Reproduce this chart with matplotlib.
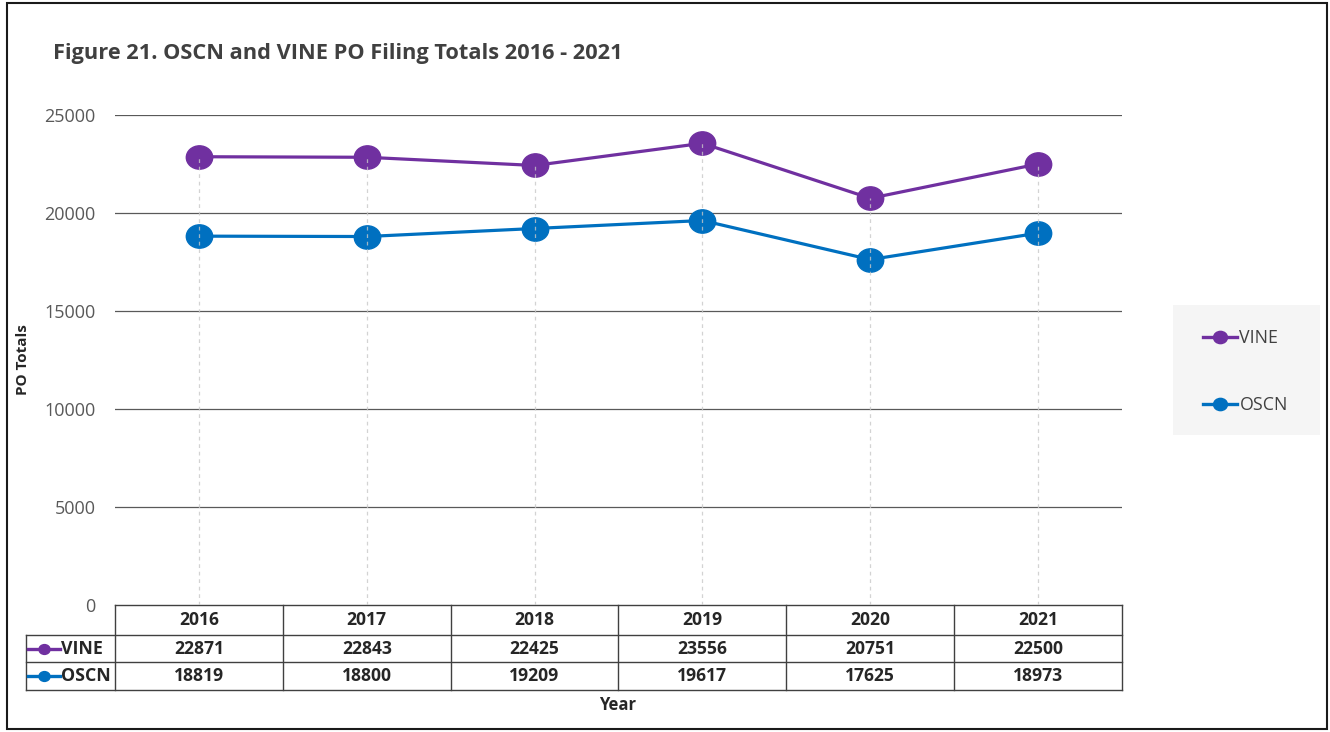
import matplotlib.pyplot as plt
from matplotlib.transforms import blended_transform_factory, Affine2D
from matplotlib.patches import Rectangle
from matplotlib.lines import Line2D
from matplotlib.path import Path

plt.rcParams['font.family'] = ['Open Sans', 'DejaVu Sans']

# datos
years = ["2016", "2017", "2018", "2019", "2020", "2021"]
vine = [22871, 22843, 22425, 23556, 20751, 22500]
oscn = [18819, 18800, 19209, 19617, 17625, 18973]
series_names = ["VINE", "OSCN"]
colors = ["#7030A0", "#0070C0"]

W, H = 1330, 732
fig = plt.figure(figsize=(W / 100, H / 100), dpi=100)
ax = fig.add_axes([115 / W, 1 - 605 / H, (1122 - 115) / W, (605 - 115) / H])

# marcador elíptico (un poco más ancho que alto)
ellipse = Path.unit_circle().transformed(Affine2D().scale(1.13, 1.0))

x = list(range(len(years)))
ax.set_xlim(-0.5, len(years) - 0.5)
ax.set_ylim(0, 25000)
ax.set_yticks(range(0, 25001, 5000))
ax.tick_params(axis="y", length=0, pad=14, labelsize=13, labelcolor="#595959")
ax.set_xticks([])
for s in ax.spines.values():
    s.set_visible(False)
for yv in range(5000, 25001, 5000):
    ax.axhline(yv, color="#595959", lw=0.9, zorder=0)

for vals, name, c in zip([vine, oscn], series_names, colors):
    ax.plot(x, vals, color=c, lw=2.3, marker=ellipse, markersize=19, label=name, zorder=3)

# líneas verticales punteadas (por encima de los marcadores, como en el original)
ax.vlines(x, 0, [max(a, b) for a, b in zip(vine, oscn)], colors="#c8c8c8",
          linestyles=(0, (3, 3)), lw=0.9, zorder=4, alpha=0.8)

ax.set_ylabel("PO Totals", fontsize=11, fontweight="bold", color="#262626")
ax.yaxis.set_label_coords(-85 / (1122 - 115), 0.5)

# tabla de datos
tr = blended_transform_factory(ax.transData, ax.transAxes)
cell = (1122 - 115) / len(years)   # px por categoría
def px_x(px):
    return -0.5 + (px - 115) / cell
def px_y(py):
    return -(py - 605) / (605 - 115)

left = px_x(26)
right = len(years) - 0.5
rows_y = [px_y(605), px_y(635), px_y(662), px_y(690)]
lkw = dict(color="#404040", lw=1.0, transform=tr, clip_on=False)
ax.plot([-0.5, right], [rows_y[0]] * 2, **lkw)
for ry in rows_y[1:]:
    ax.plot([left, right], [ry] * 2, **lkw)
ax.plot([left, left], [rows_y[1], rows_y[3]], **lkw)
for i in range(len(years) + 1):
    ax.plot([i - 0.5] * 2, [rows_y[0], rows_y[3]], **lkw)

tkw = dict(transform=tr, ha="center", va="center", fontsize=12.6,
           fontweight="bold", color="#262626", clip_on=False)
for i, yr in enumerate(years):
    ax.text(i, (rows_y[0] + rows_y[1]) / 2, yr, **tkw)
for r, vals in enumerate([vine, oscn]):
    ym = (rows_y[r + 1] + rows_y[r + 2]) / 2
    for i, v in enumerate(vals):
        ax.text(i, ym, str(v), **tkw)
    ax.plot([px_x(28), px_x(60)], [ym, ym], color=colors[r], lw=2.4,
            transform=tr, clip_on=False)
    ax.plot([px_x(44)], [ym], color=colors[r], marker=ellipse, markersize=8,
            transform=tr, clip_on=False)
    ax.text(px_x(61), ym, series_names[r], transform=tr, ha="left", va="center",
            fontsize=12.8, fontweight="bold", color="#262626", clip_on=False)

fig.text(618 / W, 1 - 705 / H, "Year", ha="center", va="center",
         fontsize=12, fontweight="bold", color="#262626")

fig.text(53 / W, 1 - 53 / H, "Figure 21. OSCN and VINE PO Filing Totals 2016 - 2021",
         ha="left", va="center", fontsize=15.7, fontweight="bold", color="#404040")

# leyenda (caja gris dibujada aparte)
fig.patches.append(Rectangle((1173 / W, 1 - 435 / H), (1320 - 1173) / W, (435 - 305) / H,
                             transform=fig.transFigure, facecolor="#f5f5f5",
                             edgecolor="none", zorder=0))
handles = [Line2D([], [], color=c, lw=2.4, marker=ellipse, markersize=10) for c in colors]
leg = fig.legend(handles, series_names, loc="upper left",
                 bbox_to_anchor=(1203 / W, 1 - 329 / H), frameon=False,
                 fontsize=12.8, labelspacing=2.75, handlelength=1.9,
                 handletextpad=0.15, borderpad=0, borderaxespad=0)
for t in leg.get_texts():
    t.set_color("#404040")

fig.patches.append(Rectangle((7 / W, 3 / H), (1327 - 7) / W, (729 - 3) / H,
                             transform=fig.transFigure, fill=False,
                             edgecolor="#1a1a1a", lw=1.5))

fig.savefig("out.png", dpi=100)
